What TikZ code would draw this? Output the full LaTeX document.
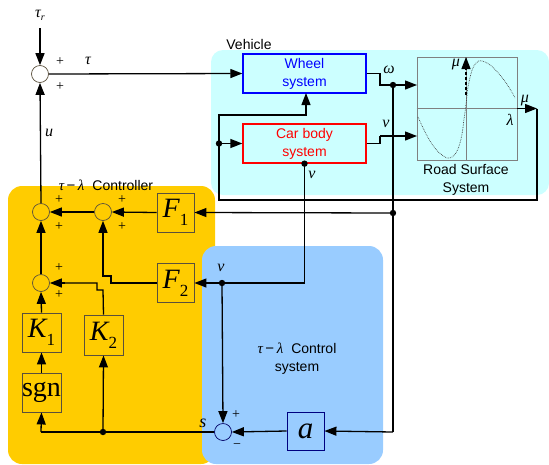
\documentclass[tikz,border=0pt]{standalone}
\usepackage{fontspec}
\setmainfont{Liberation Sans}
\newfontfamily\serif{Liberation Serif}
\usetikzlibrary{arrows.meta}
\definecolor{vehcyan}{RGB}{204,255,255}
\definecolor{ctrlorange}{RGB}{255,204,0}
\definecolor{ctrlblue}{RGB}{153,204,255}
\definecolor{boxgray}{RGB}{90,80,60}
\newcommand{\mv}[1]{{\serif\itshape #1}}
\newcommand{\bigsym}[2]{{\fontsize{28}{28}\selectfont\serif\itshape #1\raisebox{-8pt}{\fontsize{17}{17}\selectfont\upshape #2}}}
\tikzset{
  conn/.style={line width=1.3pt, draw=black},
  arr/.style={conn, -{Triangle[length=12pt,width=9pt]}},
  sumc/.style={circle, draw=boxgray, line width=0.7pt, minimum size=17pt, inner sep=0pt},
  blk/.style={draw=boxgray, line width=0.9pt, inner sep=0pt},
  sysbox/.style={draw, line width=1.3pt, minimum width=123pt, minimum height=39pt, align=center, font=\fontsize{14}{18}\selectfont},
  lbl/.style={font=\fontsize{14}{18}\selectfont, align=center},
  pm/.style={font=\fontsize{14}{14}\selectfont\serif, inner sep=0pt},
  var/.style={font=\fontsize{16}{16}\selectfont, inner sep=0pt}
}
\begin{document}
\begin{tikzpicture}[x=1pt,y=-1pt]
\useasboundingbox (0,0) rectangle (549,464);
% regions
\fill[vehcyan, rounded corners=12pt] (211,50) rectangle (549,195);
\fill[ctrlorange, rounded corners=14pt] (8,186) rectangle (215,464);
\fill[ctrlblue, rounded corners=14pt] (202,246) rectangle (383,464);
\node[lbl] (vehlbl) at (249,44) {Vehicle};
\node[lbl] (ctrllbl) at (106,185) {{\fontsize{15}{15}\selectfont\mv{τ}\,−\,\mv{λ}}\hspace{8pt}Controller};
\node[lbl] (cslbl) at (297,359) {{\fontsize{15}{15}\selectfont\mv{τ}\,−\,\mv{λ}}\hspace{8pt}Control\\system};
% vehicle blocks
\node[sysbox, draw=blue, text=blue] (wheel) at (304.5,73.5) {Wheel\\system};
\node[sysbox, draw=red, text=red] (car) at (304.5,143.5) {Car body\\system};
\node[draw=gray, line width=0.9pt, minimum width=100pt, minimum height=103pt, inner sep=0pt] (road) at (467,108.5) {};
\draw[gray, line width=0.9pt] (466,57) -- (466,160);
\draw[gray, line width=0.9pt] (road.west) -- (road.east);
\draw[black!75, densely dotted, line width=0.7pt] plot[smooth, tension=0.7] coordinates {(418,117) (430,141) (442,155) (452,157) (460,143) (465,112) (469,82) (476,63) (487,63) (500,75) (510,89) (515,98)};
\draw[conn, densely dashed, -{Triangle[length=12pt,width=9pt]}] (466,95) -- (466,57);
\node[var] (muin) at (456,65) {\mv{μ}};
\node[var] (lam) at (510,120) {\mv{λ}};
\node[lbl] (roadlbl) at (466,180) {Road Surface\\System};
% sum at top
\coordinate (taur) at (40,28);
\node[sumc] (s0) at (40,74) {};
\node[var] (taurl) at (40,15) {\mv{τ}\raisebox{-3pt}{\fontsize{10}{10}\selectfont\mv{r}}};
\node[pm] at (60,62) {+};
\node[pm] at (60,87) {+};
\node[var] (taul) at (88,61) {\mv{τ}};
\draw[arr] (taur) -- (s0.north);
\draw[arr] (s0.east) -- (wheel.west);
% wheel output
\coordinate (omdot) at (393,85);
\draw[conn] (wheel.east) -- (380,73.5) |- (omdot);
\draw[arr] (omdot) -- (417,85);
\node[var] (oml) at (389,70) {\mv{ω}};
% car body output
\draw[conn] (car.east) -- (380,143.5) -- (380,136);
\draw[arr] (380,136) -- (417,136);
\node[var] (vl1) at (386,124) {\mv{v}};
% mu output feedback
\coordinate (mucorner) at (537,108.5);
\coordinate (bodydot) at (219,143.5);
\draw[arr] (road.east) -- (mucorner);
\draw[conn] (mucorner) -- (537,200) -- (219,200) -- (219,115) -- (306,115) -- (306,100);
\draw[arr] (306,110) -- (306,93);
\draw[arr] (bodydot) -- (car.west);
\node[var] (mul) at (525,101) {\mv{μ}};
% controller blocks
\node[sumc] (sa) at (41,212) {};
\node[sumc] (sb) at (103,212) {};
\node[sumc] (sc) at (41,283) {};
\node[blk, minimum width=37pt, minimum height=39pt] (f1) at (175.5,212.5) {\bigsym{F}{1}};
\node[blk, minimum width=37pt, minimum height=39pt] (f2) at (175.5,283) {\bigsym{F}{2}};
\node[blk, minimum width=39pt, minimum height=39pt] (k1) at (41.5,332.5) {\bigsym{K}{1}};
\node[blk, minimum width=39pt, minimum height=40pt] (k2) at (103.5,335) {\bigsym{K}{2}};
\node[blk, minimum width=39pt, minimum height=39pt, font=\fontsize{28}{28}\selectfont\serif] (sgn) at (41.5,392.5) {sgn};
\node[sumc, draw=black!60!blue] (ss) at (223,432) {};
\node[blk, draw=black!50!blue, minimum width=37pt, minimum height=38pt, font=\fontsize{31}{31}\selectfont\serif\itshape] (ablk) at (305.5,431) {a};
\foreach \p in {(59,200),(59,227),(122,200),(122,227),(59,268),(59,295),(236,415)} \node[pm] at \p {+};
\node[pm] at (237,446) {−};
% controller connections
\coordinate (f1dot) at (393,213);
\coordinate (vdot) at (222,283);
\coordinate (sdot) at (103,432);
\draw[arr] (f1dot) -- (f1.east);
\draw[arr] (f1.west) -- (sb.east);
\draw[arr] (sb.west) -- (sa.east);
\draw[arr] (sa.north) -- (s0.south);
\node[var] (ul) at (49,133) {\mv{u}};
\draw[arr] (sc.north) -- (sa.south);
\draw[arr] (k1.north) -- (sc.south);
\draw[arr] (sgn.north) -- (k1.south);
\draw[conn] (f2.west) -- (111,283) -- (111,276) -- (103,276) -- (103,235);
\draw[arr] (103,240) -- (sb.south);
\draw[conn] (k2.north) -- (103,290) -- (97,290) -- (97,283) -- (60,283);
\draw[arr] (65,283) -- (sc.east);
\draw[conn] (car.south) -- (304.5,283) -- (vdot);
\draw[arr] (vdot) -- (f2.east);
\draw[arr] (vdot) -- (ss.north);
\node[var] (vl2) at (312,175) {\mv{v}};
\node[var] (vl3) at (221,268) {\mv{v}};
\draw[conn] (omdot) -- (393,432);
\draw[arr] (393,432) -- (ablk.east);
\draw[arr] (ablk.west) -- (ss.east);
\draw[conn] (ss.west) -- (41,432);
\draw[arr] (41,432) -- (sgn.south);
\draw[arr] (sdot) -- (k2.south);
\node[var, font=\fontsize{18}{18}\selectfont] (sl) at (203,423) {\mv{s}};
% dots
\foreach \c in {omdot,bodydot,vdot,f1dot,sdot} \fill (\c) circle (3.2pt);
\fill (car.south) circle (3.2pt);
\end{tikzpicture}
\end{document}
